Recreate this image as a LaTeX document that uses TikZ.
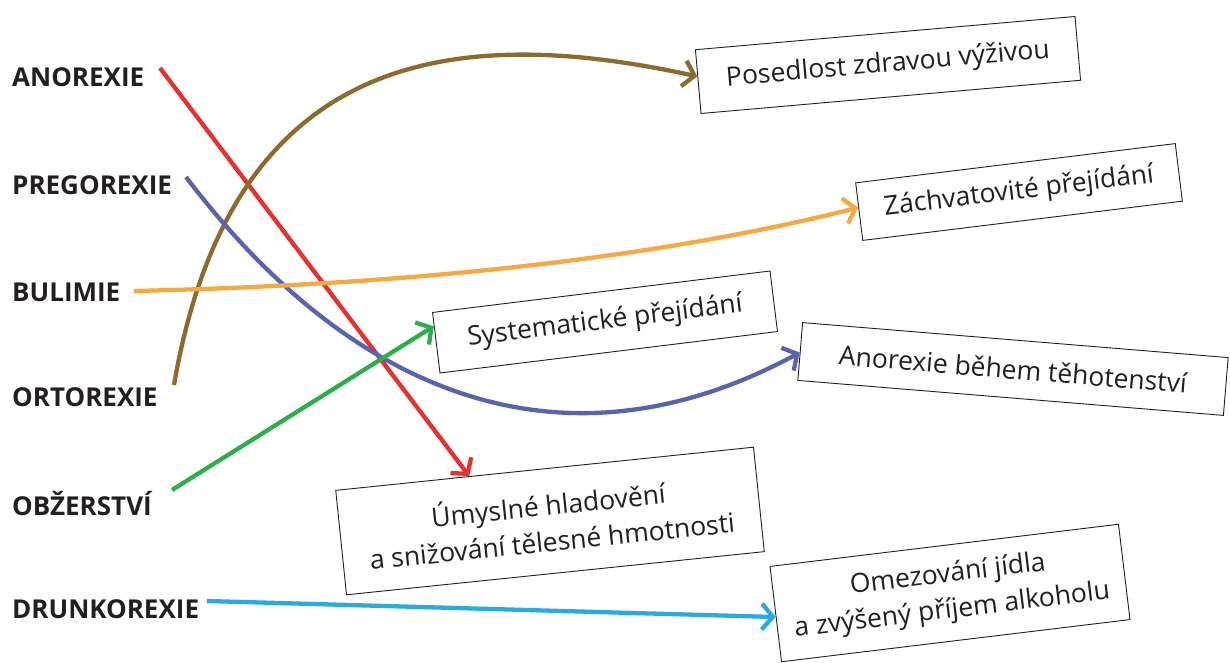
\documentclass[tikz,border=0pt]{standalone}
\usepackage{fontspec}
\setmainfont{Open Sans}
\usetikzlibrary{arrows.meta,calc}
\definecolor{ink}{HTML}{231F20}
\definecolor{cred}{HTML}{E8312F}
\definecolor{cblue}{HTML}{5A64AE}
\definecolor{cbrown}{HTML}{8D6A2E}
\definecolor{corange}{HTML}{F7A941}
\definecolor{cgreen}{HTML}{2EAE4A}
\definecolor{clblue}{HTML}{2AAAE1}
\tikzset{
  lbl/.style={anchor=west, inner sep=0pt, text=ink, font=\fontsize{26}{30}\selectfont\bfseries},
  box/.style={draw=ink, line width=0.9pt, fill=white, text=ink, align=center, inner sep=0pt,
    font=\fontsize{26.5}{36}\selectfont},
  conn/.style={line width=4.3pt, -{Straight Barb[length=11pt,width=26pt]}},
}
\begin{document}
\begin{tikzpicture}[x=1pt,y=1pt]
\useasboundingbox (0,0) rectangle (1230,662);
% labels
\node[lbl] (l1) at (12,585) {ANOREXIE};
\node[lbl] (l2) at (12,477) {PREGOREXIE};
\node[lbl] (l3) at (12,370) {BULIMIE};
\node[lbl] (l4) at (12,265) {ORTOREXIE};
\node[lbl] (l5) at (12,158) {OBŽERSTVÍ};
\node[lbl] (l6) at (12,53) {DRUNKOREXIE};
% start points
\coordinate (s1) at (160,594);
\coordinate (s2) at (186,485);
\coordinate (s3) at (134,371);
\coordinate (s4) at (174,277);
\coordinate (s5) at (172,172);
\coordinate (s6) at (207,61);
% boxes
\node[box, minimum width=381pt, minimum height=64pt, rotate=5] (b1) at (888,597) {Posedlost zdravou výživou};
\node[box, minimum width=322pt, minimum height=58pt, rotate=7] (b2) at (1019,470) {Záchvatovité přejídání};
\node[box, minimum width=340pt, minimum height=61pt, rotate=7] (b3) at (605,340) {Systematické přejídání};
\node[box, minimum width=427pt, minimum height=58pt, rotate=-4.7] (b4) at (1013,293) {Anorexie během těhotenství};
\node[box, minimum width=420pt, minimum height=105pt, rotate=5.9] (b5) at (550,141) {Úmyslné hladovění\\a snižování tělesné hmotnosti};
\node[box, minimum width=351pt, minimum height=96pt, rotate=6.9] (b6) at (950,69) {Omezování jídla\\a zvýšený příjem alkoholu};
% connectors
\draw[conn, cred] (s1) -- ($(b5.north west)!0.32!(b5.north east)$);
\draw[conn, cbrown] (s4) .. controls (230,602) and (440,642) .. ($(b1.north west)!0.42!(b1.south west)$);
\draw[conn, cblue] (s2) .. controls (340,282) and (550,175) .. ($(b4.north west)!0.52!(b4.south west)$);
\draw[conn, corange] (s3) .. controls (400,377) and (650,402) .. ($(b2.north west)!0.43!(b2.south west)$);
\draw[conn, cgreen] (s5) -- ($(b3.north west)!0.23!(b3.south west)$);
\draw[conn, clblue] (s6) -- ($(b6.north west)!0.53!(b6.south west)$);
\end{tikzpicture}
\end{document}
